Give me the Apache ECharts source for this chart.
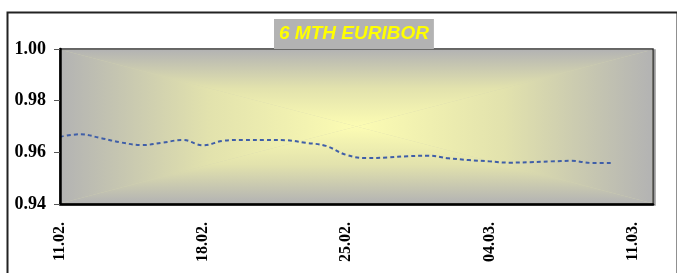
<!DOCTYPE html>
<html>
<head>
<meta charset="utf-8">
<script src="https://cdn.jsdelivr.net/npm/echarts@6/dist/echarts.min.js"></script>
<style>
  html, body { margin: 0; padding: 0; background: #fff; }
  #chart { width: 677px; height: 273px; }
</style>
</head>
<body>
<div id="chart"></div>
<script>
var days = [
  "11.02.", "12.02.", "13.02.", "14.02.", "15.02.", "16.02.", "17.02.",
  "18.02.", "19.02.", "20.02.", "21.02.", "22.02.", "23.02.", "24.02.",
  "25.02.", "26.02.", "27.02.", "28.02.", "01.03.", "02.03.", "03.03.",
  "04.03.", "05.03.", "06.03.", "07.03.", "08.03.", "09.03.", "10.03.",
  "11.03.", "12.03."
];
var euribor = [
  0.9660, 0.9670, 0.9655, 0.9638, 0.9628, 0.9637, 0.9648,
  0.9627, 0.9645, 0.9648, 0.9648, 0.9647, 0.9637, 0.9625,
  0.9590, 0.9578, 0.9580, 0.9585, 0.9587, 0.9577, 0.9570,
  0.9565, 0.9560, 0.9562, 0.9565, 0.9567, 0.9559, 0.9559,
  null, null
];
var yTicks = [0.94, 0.96, 0.98, 1.00];

var W = 677, H = 273;
var gLeft = 60, gTop = 49, gRight = 24, gBottom = 69;
var gw = W - gLeft - gRight, gh = H - gTop - gBottom;

var grey = "#b3b3b3";
var khaki = "#e2e2ad";
var yellow = "#fcfcb3";

var dom = document.getElementById("chart");
var chart = echarts.init(dom, null, { renderer: "canvas" });

// "from centre" fill of the plot area: four triangles meeting in the middle
function lg(x, y, x2, y2) {
  return new echarts.graphic.LinearGradient(x, y, x2, y2, [
    { offset: 0, color: grey },
    { offset: 0.5, color: khaki },
    { offset: 1, color: yellow }
  ]);
}
function tri(points, fill) {
  return {
    type: "polygon",
    z: 1,
    silent: true,
    shape: { points: points },
    style: { fill: fill }
  };
}
var x0 = gLeft + 0.75, y0 = gTop + 0.75;
var x1 = gLeft + gw - 0.75, y1 = gTop + gh - 0.75;
var cx = (x0 + x1) / 2, cy = (y0 + y1) / 2;
var bgShapes = [
  tri([[x0, y0], [x1, y0], [cx, cy]], lg(0, 0, 0, 1)),
  tri([[x0, y1], [x1, y1], [cx, cy]], lg(0, 1, 0, 0)),
  tri([[x0, y0], [x0, y1], [cx, cy]], lg(0, 0, 1, 0)),
  tri([[x1, y0], [x1, y1], [cx, cy]], lg(1, 0, 0, 0))
];

var option = {
  animation: false,
  title: {
    text: "6 MTH EURIBOR",
    left: 274,
    top: 19,
    padding: [5, 5, 5, 5],
    backgroundColor: grey,
    textStyle: {
      color: "#ffff00",
      fontFamily: "Liberation Sans, Arial, sans-serif",
      fontWeight: "bold",
      fontStyle: "italic",
      fontSize: 19,
      lineHeight: 20
    }
  },
  graphic: [
    {
      type: "rect",
      left: 5,
      top: 10,
      z: 10,
      silent: true,
      shape: { width: 670, height: 280 },
      style: { fill: "none", stroke: "#222", lineWidth: 2 }
    }
  ].concat(bgShapes),
  grid: {
    left: gLeft,
    top: gTop,
    right: gRight,
    bottom: gBottom,
    show: true,
    backgroundColor: "#d4d4b0",
    borderColor: "#333",
    borderWidth: 1.5,
    shadowColor: "#999",
    shadowOffsetX: 2,
    shadowOffsetY: 1,
    shadowBlur: 0
  },
  xAxis: {
    type: "category",
    data: days,
    boundaryGap: false,
    z: 5,
    axisLine: { lineStyle: { color: "#000", width: 2.5 } },
    axisTick: { show: false },
    splitLine: { show: false },
    axisLabel: {
      interval: 6,
      rotate: 90,
      margin: 18,
      color: "#000",
      fontFamily: "Liberation Serif, Times New Roman, serif",
      fontWeight: "bold",
      fontSize: 16
    }
  },
  yAxis: {
    type: "value",
    min: yTicks[0],
    max: yTicks[yTicks.length - 1],
    interval: 0.02,
    z: 5,
    axisLine: { show: true, lineStyle: { color: "#000", width: 2.5 } },
    axisTick: { show: true, length: 6, lineStyle: { color: "#555", width: 1 } },
    splitLine: { show: false },
    axisLabel: {
      margin: 14,
      color: "#000",
      fontFamily: "Liberation Serif, Times New Roman, serif",
      fontWeight: "bold",
      fontSize: 18,
      formatter: function (v) { return v.toFixed(2); }
    }
  },
  series: [
    {
      name: "6 MTH EURIBOR",
      type: "line",
      data: euribor,
      smooth: 0.4,
      showSymbol: false,
      z: 3,
      lineStyle: { color: "#3f5ea8", width: 2, type: [4, 3] }
    }
  ]
};

chart.setOption(option, true);
</script>
</body>
</html>
